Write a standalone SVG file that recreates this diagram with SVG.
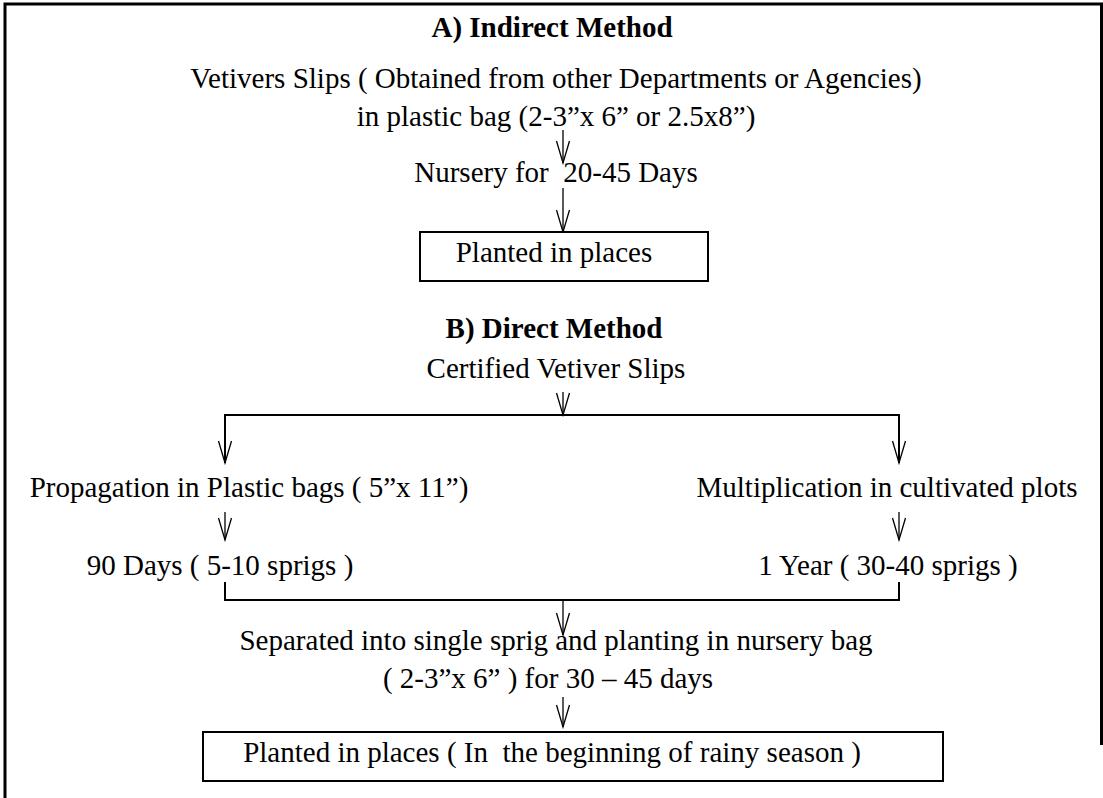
<svg xmlns="http://www.w3.org/2000/svg" width="1103" height="798" viewBox="0 0 1103 798">
<style>
text{font-family:"Liberation Serif","Times New Roman",serif;font-size:29px;fill:#000;text-anchor:middle}
.b{font-weight:bold}
.ln{stroke:#000;stroke-width:1.3;fill:none}
.hl{stroke:#000;stroke-width:2;fill:none}
.box{fill:#fff;stroke:#000;stroke-width:2}
.frame{stroke:#000;stroke-width:3;fill:none}
</style>
<defs>
<marker id="ah" markerUnits="userSpaceOnUse" markerWidth="30" markerHeight="20" refX="0" refY="0" orient="auto" overflow="visible" viewBox="-25 -10 30 20">
<path d="M-22,-6.5 L0,0 L-22,6.5" fill="none" stroke="#000" stroke-width="1.3"/>
</marker>
</defs>
<rect width="1103" height="798" fill="#fff"/>
<g id="frame">
<path class="frame" d="M5,798 V4 H1101.5 V745"/>
</g>
<g id="connectors">
<line class="ln" x1="563" y1="130" x2="563" y2="163" marker-end="url(#ah)"/>
<line class="ln" x1="563" y1="188" x2="563" y2="232" marker-end="url(#ah)"/>
<line class="ln" x1="563" y1="392" x2="563" y2="415" marker-end="url(#ah)"/>
<path class="hl" d="M225,463 V415 H899 V463"/>
<line class="ln" x1="225" y1="430" x2="225" y2="463" marker-end="url(#ah)"/>
<line class="ln" x1="899" y1="430" x2="899" y2="463" marker-end="url(#ah)"/>
<line class="ln" x1="225" y1="512" x2="225" y2="540" marker-end="url(#ah)"/>
<line class="ln" x1="899" y1="512" x2="899" y2="540" marker-end="url(#ah)"/>
<path class="hl" d="M225,582 V600 H899 V582"/>
<line class="ln" x1="563" y1="600" x2="563" y2="635" marker-end="url(#ah)"/>
<line class="ln" x1="563" y1="697" x2="563" y2="727" marker-end="url(#ah)"/>
</g>
<g id="titleA"><text class="b" x="552" y="37">A) Indirect Method</text></g>
<g id="slips">
<text x="556" y="88">Vetivers Slips ( Obtained from other Departments or Agencies)</text>
<text x="556" y="126">in plastic bag (2-3”x 6” or 2.5x8”)</text>
</g>
<g id="nursery"><text x="556" y="182" xml:space="preserve">Nursery for  20-45 Days</text></g>
<g id="plantedA">
<rect class="box" x="420" y="232" width="288" height="49"/>
<text x="554" y="262">Planted in places</text>
</g>
<g id="titleB"><text class="b" x="554" y="338">B) Direct Method</text></g>
<g id="certified"><text x="556" y="378">Certified Vetiver Slips</text></g>
<g id="propagation"><text x="249" y="497">Propagation in Plastic bags ( 5”x 11”)</text></g>
<g id="multiplication"><text x="887" y="497">Multiplication in cultivated plots</text></g>
<g id="days90"><text x="220" y="575">90 Days ( 5-10 sprigs )</text></g>
<g id="year1"><text x="888" y="575">1 Year ( 30-40 sprigs )</text></g>
<g id="separated">
<text x="556" y="650">Separated into single sprig and planting in nursery bag</text>
<text x="548" y="688">( 2-3”x 6” ) for 30 – 45 days</text>
</g>
<g id="plantedB">
<rect class="box" x="203" y="732" width="740" height="49"/>
<text x="552" y="762" xml:space="preserve">Planted in places ( In  the beginning of rainy season )</text>
</g>
</svg>
